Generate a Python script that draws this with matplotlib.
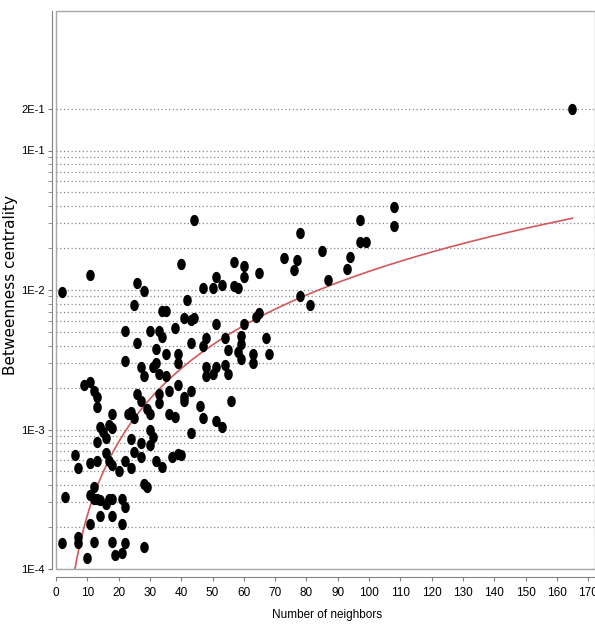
import numpy as np
import matplotlib
matplotlib.use("Agg")
import matplotlib.pyplot as plt
from matplotlib.path import Path
from matplotlib.patches import Rectangle
from matplotlib.ticker import NullFormatter

# data
neighbors = [2, 11, 26, 28, 25, 34, 35, 22, 30, 33, 34, 38, 26, 32, 35, 22, 27, 32, 31, 33,
             28, 39, 35, 9, 11, 12, 13, 13, 26, 27, 33, 36, 39, 33, 18, 23, 24, 29, 30, 36,
             38, 25, 14, 15, 17, 18, 13, 16, 24, 27, 30, 31, 30, 16, 6, 25, 27, 39, 37, 13,
             11, 17, 18, 22, 32, 34, 7, 20, 24, 12, 11, 28, 29, 3, 13, 12, 14, 16, 17, 18,
             21, 22, 14, 18, 21, 11, 7, 7, 2, 12, 18, 22, 21, 19, 28, 10, 41, 43, 44, 78,
             40, 57, 60, 60, 65, 73, 77, 76, 51, 47, 50, 53, 57, 58, 42, 78, 41, 44, 43, 51,
             64, 65, 60, 43, 47, 48, 54, 59, 59, 55, 58, 59, 63, 63, 67, 68, 39, 48, 48, 50,
             51, 54, 55, 43, 41, 56, 46, 47, 51, 53, 40, 108, 108, 97, 97, 99, 85, 94, 93, 87,
             81, 165]
betweenness = [0.0097, 0.0128, 0.0112, 0.0098, 0.0078, 0.0071, 0.0071, 0.0051, 0.0051, 0.0051,
               0.0046, 0.0053, 0.0042, 0.0038, 0.0035, 0.0031, 0.0028, 0.0030, 0.0028, 0.0025,
               0.0024, 0.0030, 0.0024, 0.0021, 0.0022, 0.0019, 0.0017, 0.00145, 0.0018, 0.0016,
               0.0018, 0.0019, 0.0021, 0.00155, 0.0013, 0.0013, 0.00133, 0.0014, 0.0013, 0.0013,
               0.00123, 0.0012, 0.00104, 0.00096, 0.00108, 0.00102, 0.00081, 0.00087, 0.00085, 0.0008,
               0.00099, 0.00088, 0.00077, 0.00068, 0.00066, 0.00069, 0.00063, 0.00067, 0.00063, 0.00059,
               0.00058, 0.00059, 0.00056, 0.00059, 0.00059, 0.00054, 0.00053, 0.0005, 0.00053, 0.00039,
               0.00034, 0.00041, 0.00039, 0.00033, 0.00032, 0.00032, 0.00031, 0.00029, 0.00032, 0.00032,
               0.00032, 0.00028, 0.00024, 0.00024, 0.00021, 0.00021, 0.00017, 0.000153, 0.000153, 0.000156,
               0.000156, 0.000153, 0.00013, 0.000126, 0.000144, 0.00012, 0.0016, 0.00094, 0.0318, 0.0256,
               0.0153, 0.0159, 0.0149, 0.0124, 0.0132, 0.0169, 0.0165, 0.0139, 0.0124, 0.0103,
               0.0103, 0.0109, 0.0106, 0.0104, 0.0085, 0.0091, 0.0063, 0.0063, 0.0061, 0.0057,
               0.0064, 0.0068, 0.0057, 0.0042, 0.0040, 0.0045, 0.0045, 0.0047, 0.0041, 0.0037,
               0.0036, 0.0032, 0.0035, 0.0030, 0.0045, 0.0035, 0.0035, 0.0028, 0.0024, 0.0025,
               0.0028, 0.0029, 0.0025, 0.0019, 0.0017, 0.0016, 0.00147, 0.0012, 0.00115, 0.00104,
               0.00066, 0.0394, 0.0288, 0.0318, 0.0221, 0.0221, 0.019, 0.0173, 0.0142, 0.0118,
               0.0078, 0.198]

# power-law trend line (y = a * x^b) as drawn in the chart
fit_a = 4.3e-6
fit_b = 1.75
fit_x = np.linspace(5, 165, 200)

x_ticks = list(range(0, 180, 10))
y_ticks = [1e-4, 1e-3, 1e-2, 1e-1, 2e-1]
y_labels = ["1E-4", "1E-3", "1E-2", "1E-1", "2E-1"]
grid_values = [m * 10.0 ** k for k in (-4, -3, -2) for m in range(1, 10)] + [0.1, 0.2]

plt.rcParams['font.family'] = ['Liberation Sans', 'DejaVu Sans']

fig = plt.figure(figsize=(5.95, 6.25), dpi=100)
ax = fig.add_axes([56 / 595, 56 / 625, 539 / 595, 558 / 625])
ax.set_yscale('log')
ax.set_xlim(0, 172.2)
ax.set_ylim(1e-4, 1)

for v in grid_values:
    ax.axhline(v, color='#8a8a8a', lw=0.9, ls=(0, (1, 2)), zorder=0)

# slightly tall blobs like in the original
t = np.linspace(0, 2 * np.pi, 40)
blob = Path(np.column_stack([0.38 * np.cos(t), 0.5 * np.sin(t)]))
ax.scatter(neighbors, betweenness, marker=blob, s=66, c='black', linewidths=0, zorder=3)

ax.plot(fit_x, fit_a * fit_x ** fit_b, color='#d05a5a', lw=1.2, zorder=2)

ax.add_patch(Rectangle((0, 0), 1, 1, transform=ax.transAxes, fill=False,
                       ec='#a8a8a8', lw=1, clip_on=False, zorder=4))
ax.spines['top'].set_visible(False)
ax.spines['right'].set_visible(False)
ax.spines['left'].set_position(('outward', 3))
ax.spines['bottom'].set_position(('outward', 6))
for s in ('left', 'bottom'):
    ax.spines[s].set_color('#808080')

ax.set_xticks(x_ticks)
ax.set_yticks(y_ticks)
ax.set_yticklabels(y_labels)
ax.set_yticks([v for v in grid_values if v not in y_ticks], minor=True)
ax.yaxis.set_minor_formatter(NullFormatter())
ax.tick_params(which='both', direction='out', length=3, color='#808080', labelsize=8.5)
ax.tick_params(axis='y', labelsize=8, pad=2)
ax.tick_params(axis='x', pad=4)

fig.text(327 / 595, 1 - 615 / 625, "Number of neighbors", ha='center', va='center', fontsize=8.5)
fig.text(11 / 595, 1 - 285 / 625, "Betweenness centrality", ha='center', va='center',
         rotation=90, fontsize=11, family='DejaVu Sans')

fig.savefig('out.png', dpi=100)
